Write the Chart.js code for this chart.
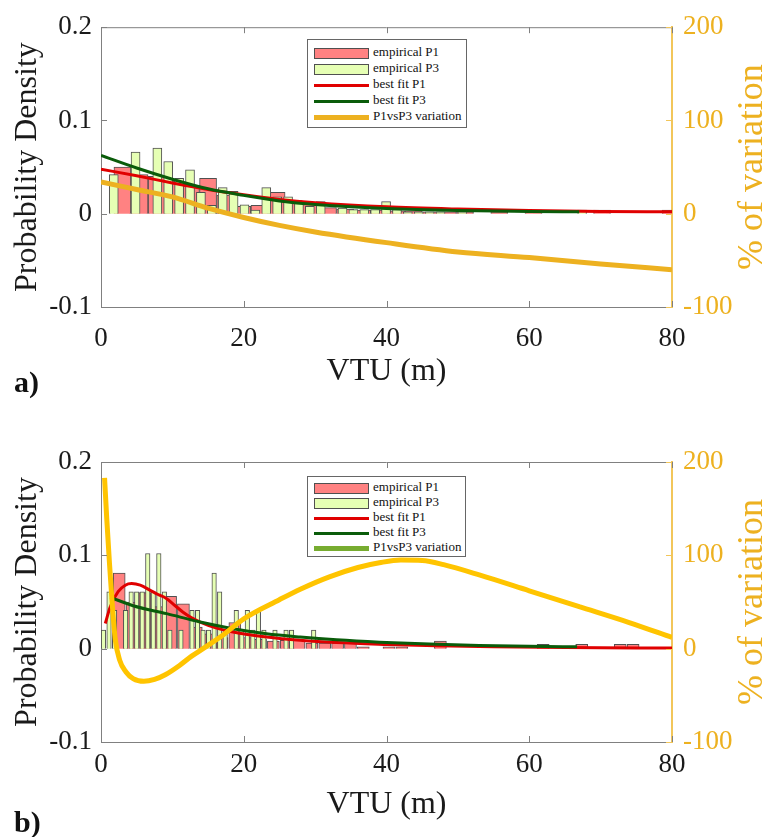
<!DOCTYPE html>
<html>
<head>
<meta charset="utf-8">
<script src="https://cdn.jsdelivr.net/npm/chart.js@4.4.0/dist/chart.umd.min.js"></script>
<style>
  body { margin: 0; background: #fff; width: 777px; height: 837px; position: relative; overflow: hidden; font-family: "Liberation Serif", "Times New Roman", serif; }
  .panel { position: absolute; left: 0; }
  .legend { position: absolute; border: 1px solid #666; background: #fff; box-sizing: border-box; font-size: 13px; color: #111; }
  .legend .row { position: absolute; left: 0; right: 0; height: 14px; }
  .legend .sw { position: absolute; left: 6px; width: 55px; box-sizing: border-box; }
  .legend .txt { position: absolute; left: 65px; top: -1px; line-height: 14px; white-space: nowrap; }
  .tag { position: absolute; left: 14px; font-weight: bold; font-size: 30px; line-height: 30px; color: #111; }
</style>
</head>
<body>
<canvas id="chart-a" class="panel" width="777" height="400" style="top:0"></canvas>
<canvas id="chart-b" class="panel" width="777" height="417" style="top:420px"></canvas>
<div id="legend-a" class="legend" style="left:307px;top:39px;width:160px;height:89px"></div>
<div id="legend-b" class="legend" style="left:307px;top:476px;width:159px;height:81px"></div>
<div class="tag" style="top:367px">a)</div>
<div class="tag" style="top:807px">b)</div>
<script>
(function () {
  // panel a) histogram bins (bin centre = start + step * i)
  const aP1Start = 3.0, aP1Step = 2.4;
  const aP1Density = [0.05, 0.042, 0.04, 0.035, 0.03, 0.038, 0.02, 0.008, 0.009, 0.023, 0.014, 0.01, 0.0065,
    0.005, 0.004, 0.004, 0.003, 0.003, 0.002, 0.002, 0.002, 0, 0.002, 0, 0.004, 0, 0, 0, 0.004, 0, 0, 0, 0.004];
  const aP3Start = 1.79, aP3Step = 1.526;
  const aP3Density = [0.042, 0, 0.066, 0, 0.0705, 0.056, 0.038, 0.047, 0.023, 0.009, 0.028, 0.024, 0.0095,
    0.004, 0.028, 0.018, 0.018, 0.013, 0.008, 0.013, 0, 0.006, 0.0045, 0.0045, 0.0045, 0.013, 0.0045, 0.002,
    0.002, 0.002, 0.002, 0, 0.002, 0, 0, 0, 0, 0, 0, 0, 0, 0, 0, 0.004];
  const aFitP1X = [0, 5, 10, 15, 20, 25, 30, 40, 50, 60, 70, 80];
  const aFitP1Y = [0.0477, 0.0407, 0.033, 0.026, 0.0203, 0.0154, 0.0119, 0.0074, 0.005, 0.0035, 0.0025, 0.002];
  const aFitP3X = [0, 5, 10, 15, 20, 25, 30, 40, 50, 60, 67];
  const aFitP3Y = [0.0625, 0.049, 0.037, 0.0267, 0.0197, 0.0137, 0.0098, 0.0056, 0.0035, 0.0025, 0.002];
  const aVarX = [0, 5, 10, 15, 20, 25, 30, 40, 50, 60, 70, 80];
  const aVarY = [34, 26, 18, 6, -4, -12.5, -19.5, -31, -41, -47, -54, -60];

  // panel b)
  const bP1Start = 2.55, bP1Step = 1.8;
  const bP1Density = [0.081, 0.05, 0.06, 0.045, 0.056, 0.048, 0.023, 0.016, 0.012, 0.028, 0.012, 0.01, 0.008,
    0.009, 0.009, 0.006, 0.006, 0.006, 0.006, 0.002, 0, 0.002, 0.002, 0, 0, 0.008, 0, 0, 0, 0, 0, 0, 0, 0.0046,
    0, 0, 0.0046, 0, 0, 0.0046, 0.0046];
  const bP3Start = 0.35, bP3Step = 0.775;
  const bP3Density = [0.020, 0.061, 0.041, 0, 0.041, 0.061, 0.061, 0.061, 0.102, 0.061, 0.102, 0.061, 0.020, 0,
    0.020, 0, 0.041, 0.041, 0.020, 0.020, 0.081, 0.061, 0.020, 0, 0.041, 0.020, 0.041, 0.020, 0.041, 0.020, 0,
    0.020, 0, 0.020, 0.020, 0, 0, 0, 0.020];
  const bFitP1X = [0.6, 1.3, 2.4, 3.4, 4.3, 5.5, 6.9, 8.0, 9.2, 10.4, 11.5, 12.7, 13.9, 16.2, 18.5, 23.2, 27.9, 33, 40, 47, 55, 65, 80];
  const bFitP1Y = [0.027, 0.045, 0.061, 0.068, 0.0697, 0.068, 0.0625, 0.058, 0.0536, 0.046, 0.039, 0.033, 0.0285,
    0.022, 0.0178, 0.0125, 0.009, 0.0065, 0.0045, 0.003, 0.002, 0.0012, 0.0006];
  const bFitP3X = [1.3, 4.5, 9.2, 13.9, 18.5, 23.2, 27.9, 33, 39, 46, 53, 60, 66.7];
  const bFitP3Y = [0.055, 0.046, 0.0375, 0.0285, 0.0214, 0.016, 0.0125, 0.0095, 0.007, 0.005, 0.0035, 0.0025, 0.002];
  const bVarX = [0.5, 0.8, 1.2, 1.6, 2.0, 2.6, 3.5, 4.5, 6, 7.5, 9, 11, 12.7, 14.3, 17, 20, 25, 28, 32, 36, 39,
    42, 45, 48, 53, 60, 67, 74, 80];
  const bVarY = [183, 140, 90, 45, 10, -12, -25, -32, -35, -33, -28, -18, -8, 0, 14, 32, 52.5, 64, 77, 87, 92,
    95, 94.5, 90, 79, 62, 45, 28, 12];

  const SERIF = '"Liberation Serif", "Times New Roman", serif';
  const AXIS = '#808080';
  const TEXT = '#1a1a1a';
  const ORANGE = '#EDB120';
  const ORANGE_AXIS = '#F2C65A';
  const RED = '#E00000';
  const GREEN = '#0A5C0A';
  const P1_FILL = '#FF8282';
  const P3_FILL = '#E6FFB4';
  const BAR_EDGE = '#505050';

  const bins = (start, step, vals) => vals.map((v, i) => ({ x: start + step * i, y: v }));
  const pts = (xs, ys) => xs.map((x, i) => ({ x: x, y: ys[i] }));

  // MATLAB-style box with inward ticks and the right-hand label
  const boxTicks = {
    id: 'boxTicks',
    afterDraw(chart) {
      const { ctx, chartArea: a, scales } = chart;
      const tl = 6;
      ctx.save();
      ctx.lineWidth = 1;
      ctx.strokeStyle = AXIS;
      ctx.beginPath();
      ctx.moveTo(a.left, a.top + 0.5);
      ctx.lineTo(a.right, a.top + 0.5);
      scales.x.ticks.forEach((t) => {
        const px = Math.round(scales.x.getPixelForValue(t.value)) + 0.5;
        ctx.moveTo(px, a.bottom); ctx.lineTo(px, a.bottom - tl);
        ctx.moveTo(px, a.top); ctx.lineTo(px, a.top + tl);
      });
      scales.y.ticks.forEach((t) => {
        const py = Math.round(scales.y.getPixelForValue(t.value)) + 0.5;
        ctx.moveTo(a.left, py); ctx.lineTo(a.left + tl, py);
      });
      ctx.stroke();
      ctx.strokeStyle = ORANGE_AXIS;
      ctx.beginPath();
      scales.y1.ticks.forEach((t) => {
        const py = Math.round(scales.y1.getPixelForValue(t.value)) + 0.5;
        ctx.moveTo(a.right, py); ctx.lineTo(a.right - tl, py);
      });
      ctx.stroke();
      ctx.fillStyle = ORANGE;
      ctx.font = '36px ' + SERIF;
      ctx.textAlign = 'center';
      ctx.textBaseline = 'middle';
      ctx.translate(753, (a.top + a.bottom) / 2);
      ctx.rotate(-Math.PI / 2);
      ctx.fillText('% of variation', 0, 0);
      ctx.restore();
    }
  };

  function buildChart(id, p) {
    return new Chart(document.getElementById(id), {
      type: 'bar',
      data: {
        datasets: [
          { label: 'empirical P1', data: bins(p.p1Start, p.p1Step, p.p1), backgroundColor: P1_FILL,
            borderColor: BAR_EDGE, borderWidth: 1, barThickness: p.p1Bar, grouped: false, order: 5 },
          { label: 'empirical P3', data: bins(p.p3Start, p.p3Step, p.p3), backgroundColor: P3_FILL,
            borderColor: BAR_EDGE, borderWidth: 1, barThickness: p.p3Bar, grouped: false, order: 4 },
          { type: 'line', label: 'best fit P1', data: pts(p.fitP1X, p.fitP1Y), borderColor: RED, borderWidth: 3,
            pointRadius: 0, cubicInterpolationMode: 'monotone', order: 3 },
          { type: 'line', label: 'best fit P3', data: pts(p.fitP3X, p.fitP3Y), borderColor: GREEN, borderWidth: 3,
            pointRadius: 0, cubicInterpolationMode: 'monotone', order: 2 },
          { type: 'line', label: 'P1vsP3 variation', data: pts(p.varX, p.varY), borderColor: p.varColor,
            borderWidth: 5, pointRadius: 0, cubicInterpolationMode: 'monotone', yAxisID: 'y1', order: 1 }
        ]
      },
      options: {
        responsive: false,
        animation: false,
        layout: { padding: { top: p.padTop, left: 0, right: 0, bottom: 0 } },
        plugins: { legend: { display: false }, tooltip: { enabled: false } },
        scales: {
          x: {
            type: 'linear', min: 0, max: 80, offset: false,
            grid: { display: false, drawTicks: false },
            border: { display: true, color: AXIS, width: 1 },
            ticks: { stepSize: 20, color: TEXT, padding: p.xTickPad, maxRotation: 0, font: { family: SERIF, size: 27 } },
            title: { display: true, text: 'VTU (m)', color: TEXT, font: { family: SERIF, size: 32 },
              padding: { top: 0, bottom: p.xTitlePad } },
            afterFit(s) { s.height = p.xAxisH; }
          },
          y: {
            position: 'left', min: -0.1, max: 0.2,
            grid: { display: false, drawTicks: false },
            border: { display: true, color: AXIS, width: 1 },
            ticks: { stepSize: 0.1, color: TEXT, padding: 9, font: { family: SERIF, size: 27 },
              callback: (v) => (Math.abs(v) < 1e-9 ? '0' : v.toFixed(1)) },
            title: { display: true, text: 'Probability Density', color: TEXT, font: { family: SERIF, size: 32 },
              padding: { top: 8, bottom: 0 } },
            afterFit(s) { s.width = 101; }
          },
          y1: {
            position: 'right', min: -100, max: 200,
            grid: { display: false, drawTicks: false },
            border: { display: true, color: ORANGE_AXIS, width: 2 },
            ticks: { stepSize: 100, color: ORANGE, padding: 11, font: { family: SERIF, size: 27 } },
            afterFit(s) { s.width = 105; }
          }
        }
      },
      plugins: [boxTicks]
    });
  }

  function buildLegend(id, rowTop, rowStep, varSwatch) {
    const items = [
      { label: 'empirical P1', fill: P1_FILL },
      { label: 'empirical P3', fill: P3_FILL },
      { label: 'best fit P1', line: RED, w: 3 },
      { label: 'best fit P3', line: GREEN, w: 3 },
      { label: 'P1vsP3 variation', line: varSwatch, w: 5 }
    ];
    const box = document.getElementById(id);
    items.forEach((it, i) => {
      const row = document.createElement('div');
      row.className = 'row';
      row.style.top = (rowTop + rowStep * i - 7) + 'px';
      const sw = document.createElement('div');
      sw.className = 'sw';
      if (it.fill) {
        sw.style.top = '2px';
        sw.style.height = '11px';
        sw.style.background = it.fill;
        sw.style.border = '1px solid ' + BAR_EDGE;
      } else {
        sw.style.top = (7 - it.w / 2) + 'px';
        sw.style.height = it.w + 'px';
        sw.style.background = it.line;
      }
      const txt = document.createElement('span');
      txt.className = 'txt';
      txt.textContent = it.label;
      row.appendChild(sw);
      row.appendChild(txt);
      box.appendChild(row);
    });
  }

  buildChart('chart-a', {
    p1Start: aP1Start, p1Step: aP1Step, p1: aP1Density, p1Bar: 17,
    p3Start: aP3Start, p3Step: aP3Step, p3: aP3Density, p3Bar: 9,
    fitP1X: aFitP1X, fitP1Y: aFitP1Y, fitP3X: aFitP3X, fitP3Y: aFitP3Y,
    varX: aVarX, varY: aVarY, varColor: ORANGE,
    padTop: 22, xAxisH: 93, xTitlePad: 9, xTickPad: 16
  });
  buildChart('chart-b', {
    p1Start: bP1Start, p1Step: bP1Step, p1: bP1Density, p1Bar: 12,
    p3Start: bP3Start, p3Step: bP3Step, p3: bP3Density, p3Bar: 4.5,
    fitP1X: bFitP1X, fitP1Y: bFitP1Y, fitP3X: bFitP3X, fitP3Y: bFitP3Y,
    varX: bVarX, varY: bVarY, varColor: '#FFC400',
    padTop: 42, xAxisH: 95, xTitlePad: 13, xTickPad: 7
  });
  buildLegend('legend-a', 13, 16, ORANGE);
  buildLegend('legend-b', 11, 15, '#77AC30');
})();
</script>
</body>
</html>
